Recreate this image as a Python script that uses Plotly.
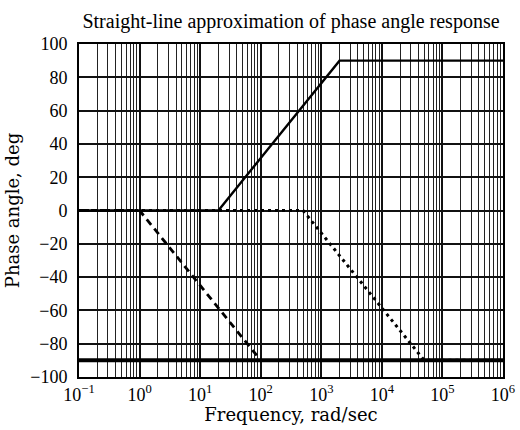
import plotly.graph_objects as go

# Straight-line phase approximations
freq_zero = [0.1, 20, 2000, 1e6]
phase_zero = [0, 0, 90, 90]

freq_pole1 = [0.1, 1, 100, 1e6]
phase_pole1 = [0, 0, -90, -90]

freq_pole2 = [0.1, 500, 50000, 1e6]
phase_pole2 = [0, 0, -90, -90]

freq_integrator = [0.1, 1e6]
phase_integrator = [-90, -90]

x_tickvals = [0.1, 1, 10, 100, 1000, 10000, 100000, 1000000]
x_ticktext = ["10<sup>−1</sup>", "10<sup>0</sup>", "10<sup>1</sup>", "10<sup>2</sup>",
              "10<sup>3</sup>", "10<sup>4</sup>", "10<sup>5</sup>", "10<sup>6</sup>"]
y_tickvals = [-100, -80, -60, -40, -20, 0, 20, 40, 60, 80, 100]

minor_vals = [d * m for d in x_tickvals[:-1] for m in range(2, 10)]

fig = go.Figure()
fig.add_trace(go.Scatter(x=freq_integrator, y=phase_integrator, mode="lines",
                         line=dict(color="black", width=4)))
fig.add_trace(go.Scatter(x=freq_pole1, y=phase_pole1, mode="lines",
                         line=dict(color="black", width=2.8, dash="7px,5px")))
fig.add_trace(go.Scatter(x=freq_pole2, y=phase_pole2, mode="lines",
                         line=dict(color="black", width=3, dash="3px,4px")))
fig.add_trace(go.Scatter(x=freq_zero, y=phase_zero, mode="lines",
                         line=dict(color="black", width=2.4)))

serif = "Liberation Serif"
wide_serif = "DejaVu Serif"
fig.update_layout(
    width=520, height=430,
    margin=dict(l=79, r=17, t=44, b=53, autoexpand=False),
    paper_bgcolor="white", plot_bgcolor="white",
    showlegend=False,
    font=dict(family=serif, color="black", size=18),
    title=dict(text="Straight-line approximation of phase angle response",
               x=0.5, xref="paper", xanchor="center",
               y=0.952, yref="container", yanchor="middle",
               font=dict(size=20, family=serif)),
)
fig.update_xaxes(
    type="log", range=[-1, 6], automargin=False,
    tickvals=x_tickvals, ticktext=x_ticktext,
    showgrid=True, gridcolor="#111", gridwidth=1.5,
    minor=dict(tickvals=minor_vals, showgrid=True, gridcolor="#222", gridwidth=1.4, ticks=""),
    showline=True, linecolor="black", linewidth=1.8, mirror=True,
    ticks="", zeroline=False, ticklabelstandoff=0,
    title=dict(text="Frequency, rad/sec", standoff=2, font=dict(size=18, family=wide_serif)),
    tickfont=dict(size=18, family=serif),
)
fig.update_yaxes(
    range=[-100, 100], automargin=False,
    tickvals=y_tickvals,
    showgrid=True, gridcolor="#111", gridwidth=1.6,
    showline=True, linecolor="black", linewidth=1.8, mirror=True,
    ticks="", zeroline=False, ticklabelstandoff=6,
    title=dict(text="Phase angle, deg", standoff=6, font=dict(size=18, family=wide_serif)),
    tickfont=dict(size=18, family=serif),
)

fig.write_html("out.html",
               config={"displayModeBar": False},
               post_script="document.body.style.margin='0';document.body.style.overflow='hidden';")
